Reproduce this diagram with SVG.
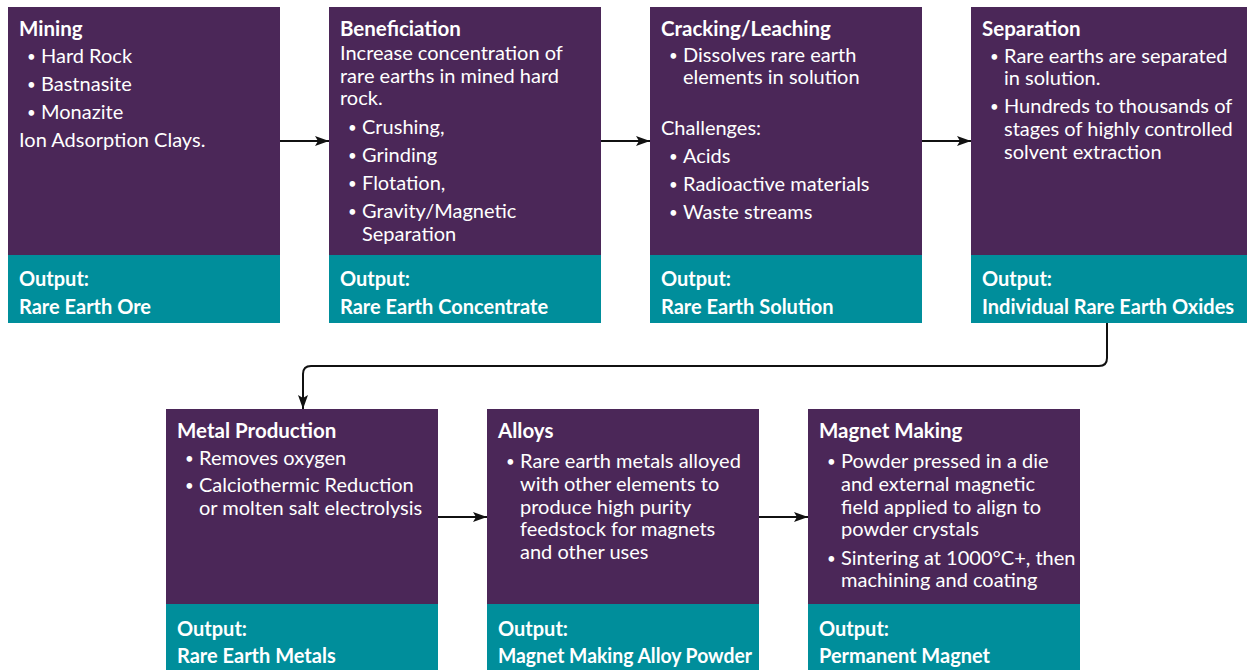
<svg xmlns="http://www.w3.org/2000/svg" width="1248" height="670" viewBox="0 0 1248 670">
<defs>
<marker id="ah" viewBox="0 0 14 10" refX="14" refY="5" markerWidth="14" markerHeight="10" markerUnits="userSpaceOnUse" orient="auto">
<path d="M0,0 L14,5 L0,10 L3,5 Z" fill="#111"/>
</marker>
<style>
.top{fill:#4B2758}
.out{fill:#008E9B}
text{font-family:Lato,"Liberation Sans",sans-serif;fill:#fff;font-size:20px}
.h{font-weight:bold;font-size:20.5px}
.o{font-weight:bold;font-size:20px}
.b{font-size:15px}
.c{fill:none;stroke:#111;stroke-width:2}
</style>
</defs>
<rect width="1248" height="670" fill="#fff"/>
<g id="connectors">
<path class="c" d="M280,141 H329" marker-end="url(#ah)"/>
<path class="c" d="M601,141 H650" marker-end="url(#ah)"/>
<path class="c" d="M922,141 H971" marker-end="url(#ah)"/>
<path class="c" d="M1107,323 V358 Q1107,366 1099,366 H311 Q303,366 303,374 V409" marker-end="url(#ah)"/>
<path class="c" d="M438,517 H487" marker-end="url(#ah)"/>
<path class="c" d="M759,517 H808" marker-end="url(#ah)"/>
</g>
<g id="mining">
<rect class="top" x="8" y="7" width="272" height="248"/>
<rect class="out" x="8" y="255" width="272" height="68"/>
<text class="h" x="19" y="36">Mining</text>
<text class="b" x="27" y="62">•</text><text x="41" y="63">Hard Rock</text>
<text class="b" x="27" y="90">•</text><text x="41" y="91">Bastnasite</text>
<text class="b" x="27" y="118">•</text><text x="41" y="119">Monazite</text>
<text x="19" y="147">Ion Adsorption Clays.</text>
<text class="o" x="19" y="286">Output:</text>
<text class="o" x="19" y="314">Rare Earth Ore</text>
</g>
<g id="beneficiation">
<rect class="top" x="329" y="7" width="272" height="248"/>
<rect class="out" x="329" y="255" width="272" height="68"/>
<text class="h" x="340" y="36">Beneficiation</text>
<text x="340" y="60">Increase concentration of</text>
<text x="340" y="83">rare earths in mined hard</text>
<text x="340" y="105">rock.</text>
<text class="b" x="348" y="133">•</text><text x="362" y="134">Crushing,</text>
<text class="b" x="348" y="161">•</text><text x="362" y="162">Grinding</text>
<text class="b" x="348" y="189">•</text><text x="362" y="190">Flotation,</text>
<text class="b" x="348" y="217">•</text><text x="362" y="218">Gravity/Magnetic</text>
<text x="362" y="241">Separation</text>
<text class="o" x="340" y="286">Output:</text>
<text class="o" x="340" y="314">Rare Earth Concentrate</text>
</g>
<g id="cracking">
<rect class="top" x="650" y="7" width="272" height="248"/>
<rect class="out" x="650" y="255" width="272" height="68"/>
<text class="h" x="661" y="36">Cracking/Leaching</text>
<text class="b" x="669" y="61">•</text><text x="683" y="62">Dissolves rare earth</text>
<text x="683" y="84">elements in solution</text>
<text x="661" y="135">Challenges:</text>
<text class="b" x="669" y="162">•</text><text x="683" y="163">Acids</text>
<text class="b" x="669" y="190">•</text><text x="683" y="191">Radioactive materials</text>
<text class="b" x="669" y="218">•</text><text x="683" y="219">Waste streams</text>
<text class="o" x="661" y="286">Output:</text>
<text class="o" x="661" y="314">Rare Earth Solution</text>
</g>
<g id="separation">
<rect class="top" x="971" y="7" width="276" height="248"/>
<rect class="out" x="971" y="255" width="276" height="68"/>
<text class="h" x="982" y="36">Separation</text>
<text class="b" x="990" y="62">•</text><text x="1004" y="63">Rare earths are separated</text>
<text x="1004" y="85">in solution.</text>
<text class="b" x="990" y="112">•</text><text x="1004" y="113">Hundreds to thousands of</text>
<text x="1004" y="136">stages of highly controlled</text>
<text x="1004" y="159">solvent extraction</text>
<text class="o" x="982" y="286">Output:</text>
<text class="o" x="982" y="314">Individual Rare Earth Oxides</text>
</g>
<g id="metal">
<rect class="top" x="166" y="409" width="272" height="195"/>
<rect class="out" x="166" y="604" width="272" height="66"/>
<text class="h" x="177" y="438">Metal Production</text>
<text class="b" x="185" y="464">•</text><text x="199" y="465">Removes oxygen</text>
<text class="b" x="185" y="491">•</text><text x="199" y="492">Calciothermic Reduction</text>
<text x="199" y="515">or molten salt electrolysis</text>
<text class="o" x="177" y="636">Output:</text>
<text class="o" x="177" y="663">Rare Earth Metals</text>
</g>
<g id="alloys">
<rect class="top" x="487" y="409" width="272" height="195"/>
<rect class="out" x="487" y="604" width="272" height="66"/>
<text class="h" x="498" y="438">Alloys</text>
<text class="b" x="506" y="467">•</text><text x="520" y="468">Rare earth metals alloyed</text>
<text x="520" y="491">with other elements to</text>
<text x="520" y="514">produce high purity</text>
<text x="520" y="536">feedstock for magnets</text>
<text x="520" y="559">and other uses</text>
<text class="o" x="498" y="636">Output:</text>
<text class="o" x="498" y="663" textLength="254" lengthAdjust="spacingAndGlyphs">Magnet Making Alloy Powder</text>
</g>
<g id="magnet">
<rect class="top" x="808" y="409" width="272" height="195"/>
<rect class="out" x="808" y="604" width="272" height="66"/>
<text class="h" x="819" y="438">Magnet Making</text>
<text class="b" x="827" y="467">•</text><text x="841" y="468">Powder pressed in a die</text>
<text x="841" y="491">and external magnetic</text>
<text x="841" y="514">field applied to align to</text>
<text x="841" y="536">powder crystals</text>
<text class="b" x="827" y="564">•</text><text x="841" y="565">Sintering at 1000°C+, then</text>
<text x="841" y="587">machining and coating</text>
<text class="o" x="819" y="636">Output:</text>
<text class="o" x="819" y="663">Permanent Magnet</text>
</g>
</svg>
